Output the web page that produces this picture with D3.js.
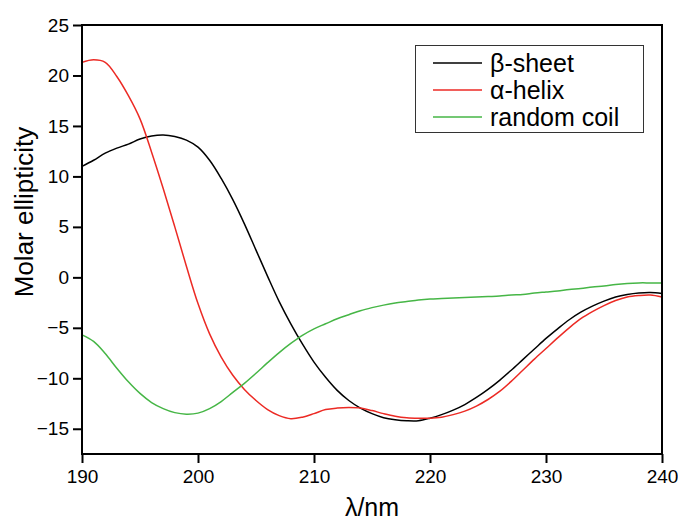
<html>

<head>
    <style>
        body {
            margin: 0;
            font-family: "Liberation Sans", Arial, Helvetica, sans-serif;
            background: white;
        }
    </style>
    <script src="https://d3js.org/d3.v7.min.js"></script>
</head>

<body>
    <svg id="CDChart"></svg>
</body>

<script>
    // wavelengths, 1 nm steps
    let wavelengths = d3.range(190, 241)

    let seriesNames = ["β-sheet", "α-helix", "random coil"]
    let seriesColors = ["#000000", "#ec2a24", "#46b646"]

    let betaSheet = [
        11.0, 11.6, 12.3, 12.8, 13.2, 13.7, 14.0, 14.1, 13.95, 13.6, 12.9,
        11.6, 9.8, 7.7, 5.3, 2.7, 0.1, -2.4, -4.6, -6.6, -8.4,
        -9.9, -11.2, -12.2, -12.95, -13.5, -13.9, -14.1, -14.2, -14.2, -13.95,
        -13.6, -13.15, -12.6, -11.9, -11.1, -10.2, -9.2, -8.15, -7.1, -6.05,
        -5.1, -4.2, -3.45, -2.85, -2.35, -1.95, -1.7, -1.55, -1.5, -1.6
    ]

    let alphaHelix = [
        21.3, 21.55, 21.3, 19.9, 18.0, 15.7, 12.4, 8.8, 5.0, 1.1, -2.6,
        -5.6, -7.9, -9.7, -11.1, -12.2, -13.1, -13.7, -14.0, -13.85, -13.5,
        -13.1, -12.95, -12.9, -12.95, -13.2, -13.5, -13.75, -13.9, -13.95, -13.95,
        -13.85, -13.6, -13.25, -12.75, -12.1, -11.3, -10.3, -9.2, -8.1, -7.05,
        -6.0, -5.0, -4.1, -3.4, -2.8, -2.3, -1.95, -1.8, -1.75, -1.95
    ]

    let randomCoil = [
        -5.7, -6.35, -7.55, -9.0, -10.35, -11.5, -12.4, -13.0, -13.4, -13.55, -13.45,
        -13.0, -12.3, -11.4, -10.5, -9.5, -8.45, -7.45, -6.55, -5.75, -5.1,
        -4.6, -4.1, -3.7, -3.3, -3.0, -2.75, -2.55, -2.4, -2.25, -2.15,
        -2.1, -2.05, -2.0, -1.95, -1.9, -1.85, -1.75, -1.7, -1.55, -1.45,
        -1.35, -1.2, -1.1, -0.95, -0.85, -0.7, -0.6, -0.55, -0.55, -0.55
    ]

    let xTicks = [190, 200, 210, 220, 230, 240]
    let yTicks = [-15, -10, -5, 0, 5, 10, 15, 20, 25]

    function getConfig() {
        let width = 678
        let height = 520
        let margin = { top: 25, bottom: 66, left: 82, right: 16 }
        let bodyWidth = width - margin.left - margin.right
        let bodyHeight = height - margin.top - margin.bottom
        let container = d3.select("#CDChart")
            .attr("width", width)
            .attr("height", height)
        return { width, height, margin, bodyWidth, bodyHeight, container }
    }

    function getScales(config) {
        let { margin, width, height } = config
        let xScale = d3.scaleLinear()
            .domain([190, 240])
            .range([margin.left, width - margin.right])
        let yScale = d3.scaleLinear()
            .domain([-17.5, 25])
            .range([height - margin.bottom, margin.top])
        return { xScale, yScale }
    }

    function drawLines(series, scales, config) {
        let { xScale, yScale } = scales
        let line = d3.line()
            .x((d, i) => xScale(wavelengths[i]))
            .y(d => yScale(d))
            .curve(d3.curveCatmullRom.alpha(0.5))

        config.container.append("g")
            .selectAll("path")
            .data(series)
            .enter().append("path")
            .attr("d", d => line(d.values))
            .attr("fill", "none")
            .attr("stroke", d => d.color)
            .attr("stroke-width", 1.5)
    }

    function drawAxes(scales, config) {
        let { xScale, yScale } = scales
        let { container, margin, height, bodyWidth, bodyHeight } = config

        let axisX = d3.axisBottom(xScale)
            .tickValues(xTicks)
            .tickFormat(d3.format("d"))
            .tickSize(9)
            .tickSizeOuter(0)
            .tickPadding(7)
        let gx = container.append("g")
            .attr("transform", `translate(0,${height - margin.bottom})`)
            .call(axisX)

        let axisY = d3.axisLeft(yScale)
            .tickValues(yTicks)
            .tickFormat(d3.format("d"))
            .tickSize(9)
            .tickSizeOuter(0)
            .tickPadding(4)
        let gy = container.append("g")
            .attr("transform", `translate(${margin.left},0)`)
            .call(axisY)

        for (let g of [gx, gy]) {
            g.select(".domain").remove()
            g.selectAll(".tick line").attr("stroke", "#000").attr("stroke-width", 2)
            g.selectAll(".tick text")
                .attr("fill", "#000")
                .style("font-size", "19px")
                .style("font-family", "'Liberation Sans', Arial, sans-serif")
        }

        // frame around the plot body
        container.append("rect")
            .attr("x", margin.left)
            .attr("y", margin.top)
            .attr("width", bodyWidth)
            .attr("height", bodyHeight)
            .attr("fill", "none")
            .attr("stroke", "#000")
            .attr("stroke-width", 2)

        container.append("text")
            .attr("x", margin.left + bodyWidth / 2)
            .attr("y", 516)
            .attr("text-anchor", "middle")
            .style("font-size", "25px")
            .text("λ/nm")

        container.append("text")
            .attr("transform", "translate(33,212) rotate(-90)")
            .attr("text-anchor", "middle")
            .style("font-size", "26px")
            .text("Molar ellipticity")
    }

    function drawLegend(series, config) {
        let legend = config.container.append("g")
        legend.append("rect")
            .attr("x", 415.5)
            .attr("y", 45.5)
            .attr("width", 228)
            .attr("height", 87)
            .attr("fill", "white")
            .attr("stroke", "#333")
            .attr("stroke-width", 1)

        let items = legend.selectAll(".item")
            .data(series)
            .enter().append("g")
            .attr("transform", (d, i) => `translate(0,${63 + i * 27})`)

        items.append("line")
            .attr("x1", 433)
            .attr("x2", 482)
            .attr("stroke", d => d.color)
            .attr("stroke-width", 1.5)

        items.append("text")
            .attr("x", 490)
            .attr("y", 8.5)
            .style("font-size", "25px")
            .text(d => d.name)
    }

    function showChart() {
        let series = [betaSheet, alphaHelix, randomCoil].map((values, i) => ({
            name: seriesNames[i],
            color: seriesColors[i],
            values: values
        }))
        let config = getConfig()
        let scales = getScales(config)
        drawLines(series, scales, config)
        drawAxes(scales, config)
        drawLegend(series, config)
    }

    showChart()
</script>

</html>
